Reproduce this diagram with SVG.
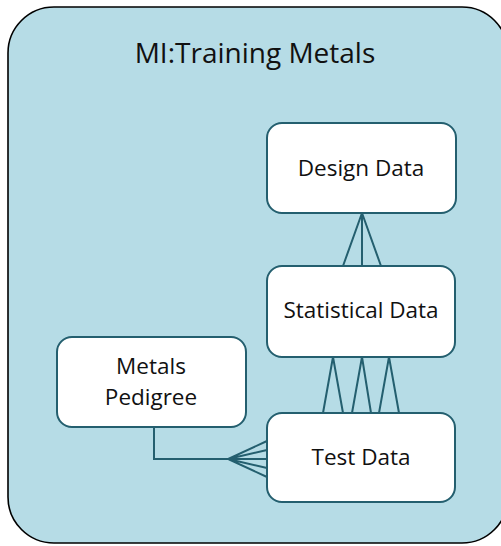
<svg xmlns="http://www.w3.org/2000/svg" width="501" height="546" viewBox="0 0 501 546">
  <style>
    .node rect { fill: #ffffff; stroke: #245f6f; stroke-width: 2; }
    .label { font-family: "Open Sans", "Noto Sans", "Liberation Sans", sans-serif; font-size: 22.5px; fill: #111111; text-anchor: middle; }
    .title { font-family: "Open Sans", "Noto Sans", "Liberation Sans", sans-serif; font-size: 28px; fill: #111111; text-anchor: middle; }
    .conn { fill: none; stroke: #245f6f; stroke-width: 2; stroke-linejoin: miter; }
  </style>

  <!-- container -->
  <g id="container">
    <rect x="8" y="7" width="500" height="536" rx="46" ry="46" fill="#b6dce6" stroke="#000000" stroke-width="1.6"/>
    <text class="title" x="255" y="63">MI:Training Metals</text>
  </g>

  <!-- connectors -->
  <g id="connectors">
    <!-- Statistical Data -> Design Data (crow's foot) -->
    <path class="conn" d="M362,213 L362,266 M362,213 L343,266 M362,213 L381,266"/>
    <!-- Test Data -> Statistical Data -->
    <path class="conn" d="M323,413 L333,357 L343,413"/>
    <path class="conn" d="M352,413 L362,357 L371,413"/>
    <path class="conn" d="M379,413 L389,357 L399,413"/>
    <!-- Metals Pedigree -> Test Data -->
    <path class="conn" d="M154,427 L154,459 L228,459"/>
    <path class="conn" d="M267,441 L228,459 L267,477 M228,459 L267,450 M228,459 L267,459 M228,459 L267,468"/>
  </g>

  <g id="design-data" class="node">
    <rect x="267" y="123" width="189" height="90" rx="15" ry="15"/>
    <text class="label" x="361" y="176">Design Data</text>
  </g>

  <g id="statistical-data" class="node">
    <rect x="267" y="266" width="188" height="91" rx="15" ry="15"/>
    <text class="label" x="361" y="318">Statistical Data</text>
  </g>

  <g id="test-data" class="node">
    <rect x="267" y="413" width="188" height="89" rx="15" ry="15"/>
    <text class="label" x="361" y="465">Test Data</text>
  </g>

  <g id="metals-pedigree" class="node">
    <rect x="57" y="337" width="189" height="90" rx="15" ry="15"/>
    <text class="label" x="151" y="374">Metals</text>
    <text class="label" x="151" y="405">Pedigree</text>
  </g>
</svg>
